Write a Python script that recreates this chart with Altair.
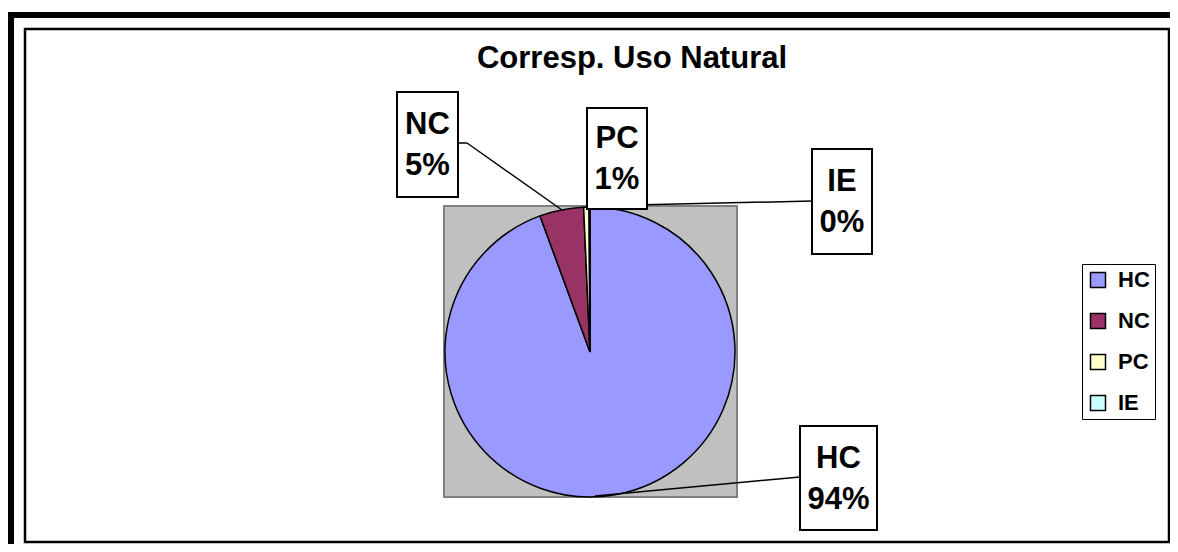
import altair as alt
import pandas as pd

# ---- data ----
categories = ["HC", "NC", "PC", "IE"]
values = [94.4, 4.9, 0.6, 0.1]
colors = ["#9999FF", "#993366", "#FFFFCC", "#CCFFFF"]
title_text = "Corresp. Uso Natural"

# ---- layout (pixel positions inside the chart) ----
box_x1 = [792, 389, 579, 804]
box_x2 = [869, 450, 639, 864]
box_y1 = [418, 84, 100, 141]
box_y2 = [522, 189, 201, 246]
leader_x1 = [792, 450, 459, 582]
leader_y1 = [469, 135, 135, 198]
leader_x2 = [587, 459, 554, 804]
leader_y2 = [488, 135, 202, 193]

FONT = "Liberation Sans"
W, H = 1162, 536
CX, CY, R = 582, 344, 145
LH = 41

pie_df = pd.DataFrame({"cat": categories, "value": values, "idx": range(len(categories))})
lab_df = pd.DataFrame({
    "text": [f"{c}\n{round(v)}%" for c, v in zip(categories, values)],
    "x1": box_x1, "x2": box_x2, "y1": box_y1, "y2": box_y2,
})
lab_df["cx"] = (lab_df.x1 + lab_df.x2) / 2
lab_df["cy"] = (lab_df.y1 + lab_df.y2) / 2 - LH / 2 + 1
lead_df = pd.DataFrame({"x1": leader_x1, "y1": leader_y1, "x2": leader_x2, "y2": leader_y2})

base = alt.Chart(pd.DataFrame({"a": [0]}))

outer = base.mark_rect(fill=None, stroke="black", strokeWidth=6).encode(
    x=alt.value(3), x2=alt.value(1500), y=alt.value(7), y2=alt.value(1000))
inner = base.mark_rect(fill=None, stroke="black", strokeWidth=2.5).encode(
    x=alt.value(17), x2=alt.value(1161), y=alt.value(21), y2=alt.value(534))
title = base.mark_text(font=FONT, fontSize=31, fontWeight="bold", align="center",
                       baseline="middle", color="black").encode(
    x=alt.value(624), y=alt.value(51), text=alt.value(title_text))
plot_bg = base.mark_rect(fill="#C0C0C0", stroke="#808080", strokeWidth=2).encode(
    x=alt.value(436), x2=alt.value(729), y=alt.value(198), y2=alt.value(489))

pie = alt.Chart(pie_df).mark_arc(outerRadius=R, stroke="black", strokeWidth=1.5).encode(
    theta=alt.Theta("value:Q", stack=True),
    order=alt.Order("idx:Q"),
    color=alt.Color("cat:N", sort=categories,
                    scale=alt.Scale(domain=categories, range=colors),
                    legend=alt.Legend(title=None, orient="none", legendX=1074, legendY=256,
                                      direction="vertical",
                                      labelFont=FONT, labelFontSize=22, labelFontWeight="bold",
                                      labelColor="black",
                                      labelExpr="datum.label + '   '",
                                      symbolType="square", symbolSize=225,
                                      symbolStrokeColor="black", symbolStrokeWidth=1.5,
                                      padding=5, strokeColor="black",
                                      rowPadding=19, labelOffset=9)),
    x=alt.value(CX), y=alt.value(CY),
)

leaders = alt.Chart(lead_df).mark_rule(color="black", strokeWidth=1.5).encode(
    x=alt.X("x1:Q", scale=None, axis=None), x2="x2:Q",
    y=alt.Y("y1:Q", scale=None, axis=None), y2="y2:Q")

boxes = alt.Chart(lab_df).mark_rect(fill="white", stroke="black", strokeWidth=2).encode(
    x=alt.X("x1:Q", scale=None, axis=None), x2="x2:Q",
    y=alt.Y("y1:Q", scale=None, axis=None), y2="y2:Q")

texts = alt.Chart(lab_df).mark_text(font=FONT, fontSize=31, fontWeight="bold", align="center",
                                    baseline="middle", lineBreak="\n", lineHeight=LH,
                                    color="black").encode(
    x=alt.X("cx:Q", scale=None, axis=None),
    y=alt.Y("cy:Q", scale=None, axis=None),
    text="text:N")

chart = alt.layer(outer, inner, title, plot_bg, pie, leaders, boxes, texts).properties(
    width=W, height=H, autosize=alt.AutoSizeParams(type="none"), padding=0,
    background="white",
).configure_view(stroke=None)

chart.save("out.html", embed_options={"renderer": "svg", "actions": False})
